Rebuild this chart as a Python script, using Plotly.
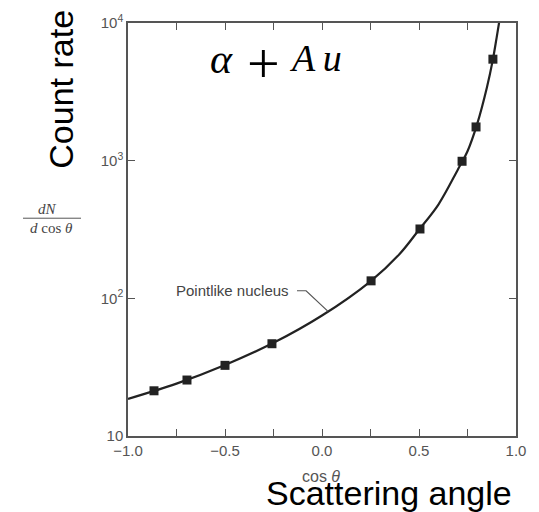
import plotly.graph_objects as go

# measured data points (squares)
cos_theta = [-0.866, -0.696, -0.5, -0.258, 0.253, 0.505, 0.722, 0.794, 0.881]
count_rate = [21.3, 25.5, 32.6, 46.8, 134, 319, 990, 1758, 5460]

# "Pointlike nucleus" curve
curve_cos = [-1.0, -0.75, -0.5, -0.25, 0.0, 0.25, 0.4, 0.5, 0.6, 0.7, 0.75, 0.8, 0.85, 0.88, 0.9, 0.915]
curve_rate = [18.6, 24.0, 32.8, 47.5, 75, 133, 210, 315, 480, 860, 1170, 1850, 3400, 5350, 7800, 10500]

# leader line from label to curve
leader_cos = [-0.129, -0.082, 0.031]
leader_rate = [113.5, 113.5, 80.4]

x_tickvals = [-1.0, -0.75, -0.5, -0.25, 0.0, 0.25, 0.5, 0.75, 1.0]
x_ticktext = ["\u22121.0", "", "\u22120.5", "", "0.0", "", "0.5", "", "1.0"]
y_tickvals = [10, 100, 1000, 10000]
y_ticktext = ["10", "10<sup>2</sup>", "10<sup>3</sup>", "10<sup>4</sup>"]

W, H = 539, 512
L, R, T, B = 128, 23, 15, 76
pw, ph = W - L - R, H - T - B

def px(x):
    return (x - L) / pw

def py(y):
    return (H - B - y) / ph

fig = go.Figure()
fig.add_trace(go.Scatter(x=curve_cos, y=curve_rate, mode="lines",
                         line=dict(color="#222", width=2.2, shape="spline"),
                         hoverinfo="skip", showlegend=False))
fig.add_trace(go.Scatter(x=leader_cos, y=leader_rate, mode="lines",
                         line=dict(color="#555", width=1.2),
                         hoverinfo="skip", showlegend=False))
fig.add_trace(go.Scatter(x=cos_theta, y=count_rate, mode="markers",
                         marker=dict(symbol="square", size=9, color="#222"),
                         showlegend=False))

axis_common = dict(showline=True, mirror="ticks", linecolor="#555", linewidth=1.5,
                   ticks="inside", ticklen=7, tickwidth=1.3, tickcolor="#555",
                   showgrid=False, zeroline=False,
                   tickfont=dict(family="Arial", size=15, color="#555"))

fig.update_xaxes(range=[-1, 1], tickmode="array", tickvals=x_tickvals,
                 ticktext=x_ticktext, **axis_common)
fig.update_yaxes(type="log", range=[1, 4], tickmode="array", tickvals=y_tickvals,
                 ticktext=y_ticktext, **axis_common)

ann = []
ann.append(dict(text="<i>\u03b1</i>", x=px(221), y=py(52),
                font=dict(family="Liberation Serif", size=42, color="black")))
ann.append(dict(text="+", x=px(263), y=py(56),
                font=dict(family="Liberation Serif", size=58, color="black")))
ann.append(dict(text="<i>A\u2009u</i>", x=px(315), y=py(51),
                font=dict(family="Liberation Serif", size=38, color="black")))
ann.append(dict(text="Count rate", x=px(61), y=py(83), textangle=-90,
                font=dict(family="Arial", size=34, color="black")))
ann.append(dict(text="<i>dN</i>", x=px(47), y=py(205),
                font=dict(family="Liberation Serif", size=15, color="#444")))
ann.append(dict(text="<i>d</i> cos <i>\u03b8</i>", x=px(51), y=py(224),
                font=dict(family="Liberation Serif", size=15, color="#444")))
ann.append(dict(text="Pointlike nucleus", x=px(232), y=py(288),
                font=dict(family="Arial", size=15, color="#444")))
ann.append(dict(text="cos <i>\u03b8</i>", x=px(321), y=py(477),
                font=dict(family="Arial", size=16, color="#555")))
ann.append(dict(text="Scattering angle", x=px(389), y=py(494),
                font=dict(family="Arial", size=34, color="black")))
for a in ann:
    a.update(xref="paper", yref="paper", showarrow=False,
             xanchor="center", yanchor="middle")

fig.update_layout(
    width=W, height=H,
    margin=dict(l=L, r=R, t=T, b=B),
    paper_bgcolor="white", plot_bgcolor="white",
    annotations=ann,
    shapes=[dict(type="line", xref="paper", yref="paper",
                 x0=px(23), x1=px(81), y0=py(214), y1=py(214),
                 line=dict(color="#555", width=1))],
)

fig.write_html("out.html", config={"displayModeBar": False},
               post_script="document.body.style.margin='0';document.body.style.padding='0';")
